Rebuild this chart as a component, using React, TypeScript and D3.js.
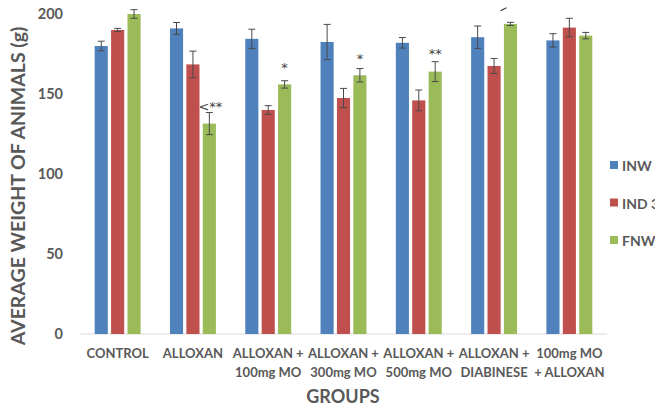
import * as d3 from "d3";
import { useEffect, useRef } from "react";

const groups = [
  ["CONTROL"],
  ["ALLOXAN"],
  ["ALLOXAN +", "100mg MO"],
  ["ALLOXAN +", "300mg MO"],
  ["ALLOXAN +", "500mg MO"],
  ["ALLOXAN +", "DIABINESE"],
  ["100mg MO", "+ ALLOXAN"],
];
const seriesNames = ["INW", "IND 3", "FNW"];
const colors = ["#4f81bd", "#c0504d", "#9bbb59"];

const inw = [180, 191, 184.5, 182.5, 182, 185.5, 183.5];
const ind3 = [190, 168.5, 140, 147.5, 146, 167.5, 191.5];
const fnw = [200, 131.5, 156, 161.7, 164, 193.8, 186.5];

const inwErr = [3, 3.7, 6, 11, 3.3, 7, 4.2];
const ind3Err = [1, 8.3, 2.7, 6, 6.5, 4.7, 5.8];
const fnwErr = [2.7, 6.9, 2.3, 4.2, 6.2, 1, 2];

const yTicks = [0, 50, 100, 150, 200];

// significance marks above the FNW bars
const marks = [
  { group: 1, text: "<**", dy: 2 },
  { group: 2, text: "*", dy: 9 },
  { group: 3, text: "*", dy: 6 },
  { group: 4, text: "**", dy: 4 },
];

const FONT = "Lato, 'Open Sans', sans-serif";
const GREY = "#595959";

export default function App() {
  const ref = useRef<SVGSVGElement | null>(null);

  useEffect(() => {
    const svg = d3.select(ref.current as SVGSVGElement);
    svg.selectAll("*").remove();

    const width = 655;
    const height = 406;
    const plot = { left: 80, right: 607, top: 14, bottom: 334 };

    const values = [inw, ind3, fnw];
    const errs = [inwErr, ind3Err, fnwErr];

    const x0 = d3
      .scaleBand<number>()
      .domain(groups.map((_, i) => i))
      .range([plot.left, plot.right])
      .paddingInner(0.39)
      .paddingOuter(0.195);

    const x1 = d3
      .scaleBand<number>()
      .domain([0, 1, 2])
      .range([0, x0.bandwidth()])
      .paddingInner(0.2);

    const y = d3.scaleLinear().domain([0, 200]).range([plot.bottom, plot.top]);

    // axis line
    svg
      .append("line")
      .attr("x1", plot.left)
      .attr("x2", plot.right)
      .attr("y1", y(0))
      .attr("y2", y(0))
      .attr("stroke", "#d9d9d9")
      .attr("stroke-width", 1);

    // y tick labels
    svg
      .append("g")
      .selectAll("text")
      .data(yTicks)
      .enter()
      .append("text")
      .attr("x", 63)
      .attr("y", (d) => y(d) + 5)
      .attr("text-anchor", "end")
      .attr("font-family", FONT)
      .attr("font-weight", "bold")
      .attr("font-size", "14.5px")
      .attr("fill", GREY)
      .text((d) => d);

    // bars + error bars
    values.forEach((vals, s) => {
      const g = svg.append("g");
      vals.forEach((v, i) => {
        const bx = (x0(i) as number) + (x1(s) as number);
        const bw = x1.bandwidth();
        g.append("rect")
          .attr("x", bx)
          .attr("y", y(v))
          .attr("width", bw)
          .attr("height", y(0) - y(v))
          .attr("fill", colors[s]);

        const cx = bx + bw / 2;
        const e = errs[s][i];
        g.append("line")
          .attr("x1", cx)
          .attr("x2", cx)
          .attr("y1", y(v - e))
          .attr("y2", y(v + e))
          .attr("stroke", "#4a4a4a")
          .attr("stroke-width", 1);
        [v - e, v + e].forEach((c) => {
          g.append("line")
            .attr("x1", cx - 3.5)
            .attr("x2", cx + 3.5)
            .attr("y1", y(c))
            .attr("y2", y(c))
            .attr("stroke", "#4a4a4a")
            .attr("stroke-width", 1);
        });
      });
    });

    // significance stars
    marks.forEach((m) => {
      const cx = (x0(m.group) as number) + (x1(2) as number) + x1.bandwidth() / 2;
      svg
        .append("text")
        .attr("x", cx + (m.text.length === 3 ? 1 : 0))
        .attr("y", y(fnw[m.group] + fnwErr[m.group]) - m.dy)
        .attr("text-anchor", "middle")
        .attr("font-family", "'DejaVu Sans', sans-serif")
        .attr("font-size", "13px")
        .attr("fill", "#404040")
        .text(m.text);
    });

    // stray tick above DIABINESE FNW bar
    {
      const cx = (x0(5) as number) + (x1(2) as number) + x1.bandwidth() / 2;
      const top = y(fnw[5] + fnwErr[5]);
      svg
        .append("line")
        .attr("x1", cx - 10)
        .attr("x2", cx - 4)
        .attr("y1", top - 11.5)
        .attr("y2", top - 14.5)
        .attr("stroke", "#404040")
        .attr("stroke-width", 1.2);
    }

    // x labels
    const xl = svg.append("g");
    groups.forEach((lines, i) => {
      const cx = (x0(i) as number) + x0.bandwidth() / 2;
      const t = xl
        .append("text")
        .attr("text-anchor", "middle")
        .attr("font-family", FONT)
        .attr("font-weight", "bold")
        .attr("font-size", "13px")
        .attr("fill", GREY);
      lines.forEach((ln, k) => {
        t.append("tspan")
          .attr("x", cx)
          .attr("y", 358 + k * 19)
          .text(ln);
      });
    });

    // axis titles
    svg
      .append("text")
      .attr("x", 343)
      .attr("y", 403)
      .attr("text-anchor", "middle")
      .attr("font-family", FONT)
      .attr("font-weight", "bold")
      .attr("font-size", "18px")
      .attr("fill", GREY)
      .text("GROUPS");

    svg
      .append("text")
      .attr("transform", `translate(25,${186}) rotate(-90)`)
      .attr("text-anchor", "middle")
      .attr("font-family", FONT)
      .attr("font-weight", "bold")
      .attr("font-size", "19.5px")
      .attr("fill", GREY)
      .text("AVERAGE WEIGHT OF ANIMALS (g)");

    // legend
    const lg = svg.append("g");
    seriesNames.forEach((name, s) => {
      const ly = 166 + s * 37.5;
      lg.append("rect")
        .attr("x", 610)
        .attr("y", ly - 5)
        .attr("width", 8)
        .attr("height", 8)
        .attr("fill", colors[s]);
      lg.append("text")
        .attr("x", 622)
        .attr("y", ly + 5)
        .attr("font-family", FONT)
        .attr("font-weight", "bold")
        .attr("font-size", "14px")
        .attr("fill", GREY)
        .text(name);
    });

    svg.attr("viewBox", `0 0 ${width} ${height}`);
  }, []);

  return (
    <svg
      ref={ref}
      width={655}
      height={406}
      style={{ position: "absolute", left: 0, top: 0, background: "#fff" }}
    />
  );
}
